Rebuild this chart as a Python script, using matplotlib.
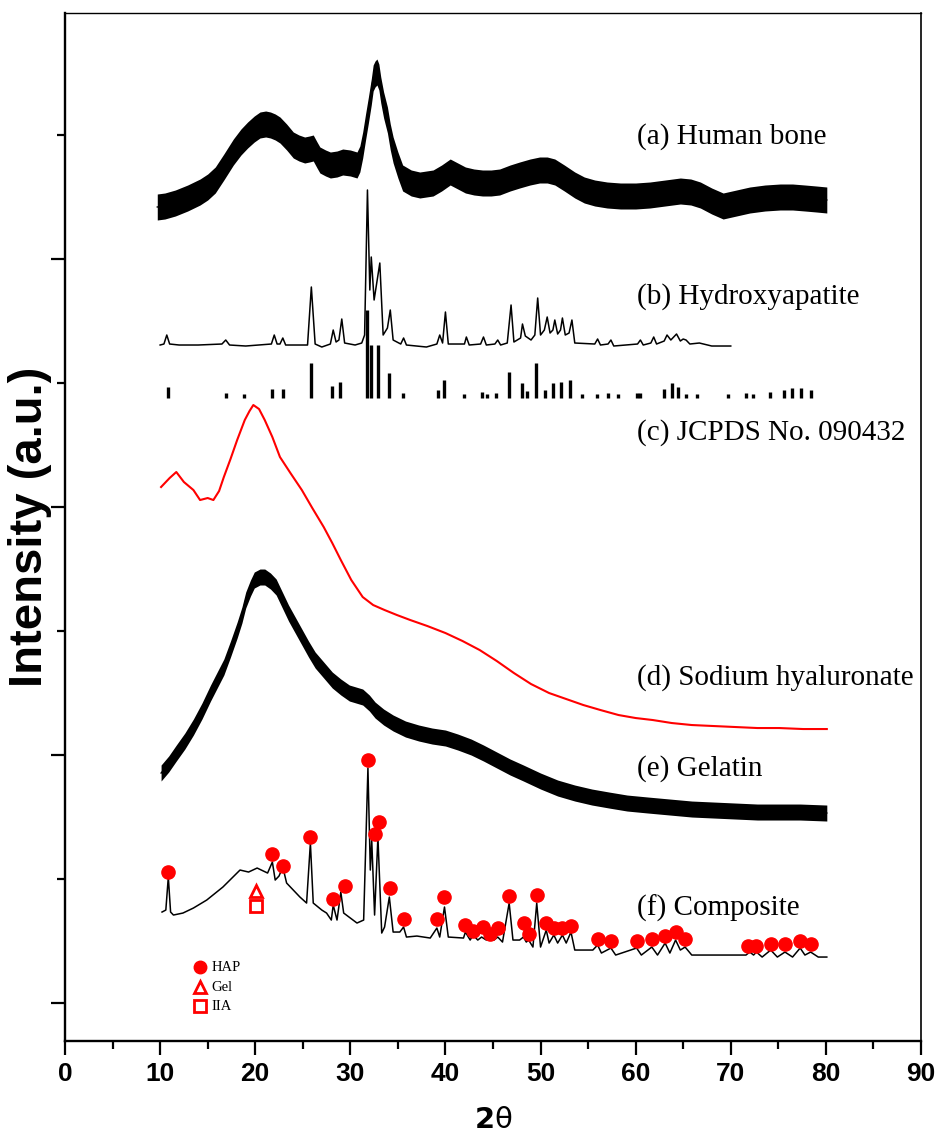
import numpy as np
import matplotlib
matplotlib.use("Agg")
import matplotlib.pyplot as plt
from matplotlib.ticker import FixedLocator, NullFormatter

# ---- data (2theta in degrees, intensity in arbitrary stacked units) ----
bone_x = [9.7, 10.5, 11.6, 12.9, 14.2, 15.0, 15.8, 16.7, 17.7, 18.5, 19.2, 19.9, 20.5,
          21.1, 21.6, 22.1, 22.6, 23.3, 24.0, 24.6, 25.2, 25.7, 26.1, 26.5, 26.8,
          27.4, 27.9, 28.6, 29.2, 30.0, 30.7, 31.0, 31.3, 31.6, 31.9, 32.2, 32.4, 32.6,
          32.8, 33.0, 33.2, 33.5, 33.9, 34.2, 34.5, 35.0, 35.5, 36.4, 37.3, 38.0, 38.7,
          39.6, 40.5, 41.3, 42.1, 43.0, 43.9, 44.8, 45.7, 46.8, 47.8, 48.9, 49.9, 50.7,
          51.5, 52.5, 53.6, 54.6, 55.7, 57.0, 58.4, 60.0, 61.5, 63.1, 64.7, 65.8, 66.8,
          68.0, 69.2, 70.6, 72.0, 73.6, 75.2, 76.5, 77.8, 79.0, 80.1]
bone_y = [920, 921, 924, 929, 935, 940, 947, 960, 975, 985, 992, 998, 1002,
          1003, 1002, 1000, 997, 990, 982, 979, 977, 978, 979, 972, 967,
          964, 962, 963, 965, 964, 962, 968, 982, 1000, 1017, 1035, 1049, 1053,
          1055, 1050, 1037, 1022, 1007, 990, 977, 962, 949, 944, 942, 943, 944,
          949, 955, 951, 947, 945, 944, 944, 945, 949, 952, 955, 957, 957,
          955, 949, 942, 937, 934, 932, 931, 931, 932, 934, 936, 935, 932,
          926, 921, 924, 927, 929, 930, 930, 929, 928, 927]
bone_noise = 13

hap_x = [10.0, 10.4, 10.7, 11.0, 12.0, 14.0, 16.5, 16.9, 17.3, 19.0, 21.7, 22.0, 22.3,
         22.6, 22.9, 23.2, 25.5, 25.9, 26.3, 27.0, 27.9, 28.2, 28.5, 28.8, 29.1, 29.4,
         30.5, 31.2, 31.5, 31.8, 32.05, 32.2, 32.5, 33.1, 33.45, 33.9, 34.2, 34.5, 35.3,
         35.6, 35.9, 38.0, 39.1, 39.4, 39.7, 40.0, 40.3, 42.0, 42.2, 42.5, 43.7, 44.0,
         44.3, 45.2, 45.5, 45.8, 46.5, 46.9, 47.2, 47.9, 48.1, 48.4, 48.7, 49.0, 49.4,
         49.7, 50.0, 50.4, 50.7, 51.0, 51.3, 51.5, 51.8, 52.1, 52.3, 52.6, 53.0, 53.3,
         53.6, 55.7, 56.0, 56.3, 57.1, 57.4, 57.7, 60.2, 60.5, 60.8, 61.6, 61.9, 62.2,
         63.0, 63.3, 63.7, 64.0, 64.3, 64.7, 65.0, 65.3, 65.7, 66.7, 68.0, 70.0]
hap_y = [782, 783, 792, 783, 782, 782, 783, 787, 782, 781, 783, 792, 783,
         783, 789, 782, 782, 840, 783, 780, 783, 797, 785, 787, 808, 784,
         782, 784, 792, 937, 837, 870, 827, 864, 792, 799, 817, 787, 783,
         789, 782, 780, 783, 792, 784, 815, 783, 783, 790, 782, 783, 790,
         782, 783, 787, 782, 784, 822, 785, 789, 803, 791, 789, 787, 792,
         829, 792, 797, 810, 794, 797, 807, 793, 797, 809, 792, 794, 807,
         784, 783, 788, 782, 783, 787, 781, 783, 787, 782, 784, 790, 783,
         786, 792, 787, 790, 793, 786, 788, 787, 783, 784, 781, 781]

# JCPDS 09-0432 reference lines (relative intensity, %)
jcpds_pos = [10.8, 16.9, 18.8, 21.8, 22.9, 25.9, 28.1, 28.9, 31.8, 32.2, 32.9, 34.1,
             35.5, 39.2, 39.8, 42.0, 43.8, 44.4, 45.3, 46.7, 48.1, 48.6, 49.5, 50.5,
             51.3, 52.1, 53.1, 54.4, 55.9, 57.1, 58.1, 60.1, 60.5, 63.0, 63.8, 64.5,
             65.3, 66.4, 69.7, 71.6, 72.3, 74.1, 75.6, 76.4, 77.4, 78.4]
jcpds_int = [12, 6, 4, 10, 10, 40, 14, 18, 100, 60, 60, 28,
             6, 9, 20, 5, 7, 4, 6, 30, 17, 8, 40, 9,
             17, 18, 20, 5, 5, 6, 5, 6, 6, 10, 17, 12,
             5, 5, 4, 6, 5, 7, 9, 11, 11, 9]
jcpds_base = 729
jcpds_scale = 0.88

sh_x = [10.1, 11.0, 11.7, 12.5, 13.5, 14.2, 15.0, 15.6, 16.2, 16.7, 17.4, 18.1, 18.9,
        19.4, 19.8, 20.4, 21.0, 21.8, 22.6, 23.7, 24.9, 26.0, 27.2, 28.1, 29.0, 30.1,
        31.3, 32.4, 33.6, 34.9, 36.3, 38.1, 40.0, 41.8, 43.6, 45.4, 47.2, 49.0, 50.9,
        52.7, 54.5, 56.3, 58.2, 60.0, 61.8, 63.8, 65.9, 68.2, 70.5, 72.8, 75.1, 77.6,
        80.1]
sh_y = [640, 649, 655, 645, 637, 627, 629, 627, 636, 650, 668, 687, 707,
        716, 722, 718, 707, 690, 670, 654, 637, 619, 600, 584, 567, 547,
        530, 522, 517, 512, 507, 501, 494, 486, 477, 466, 454, 443, 434,
        428, 422, 417, 412, 409, 407, 404, 402, 401, 400, 399, 399, 398,
        398]

gel_x = [10.1, 10.9, 11.7, 12.6, 13.5, 14.4, 15.3, 16.0, 16.7, 17.4, 18.1, 18.6, 19.0,
         19.5, 19.9, 20.5, 21.0, 21.6, 22.2, 22.8, 23.5, 24.2, 24.9, 25.6, 26.3, 27.2,
         28.1, 29.0, 29.9, 30.6, 31.3, 32.0, 32.6, 33.5, 34.5, 35.8, 37.2, 38.6, 40.0,
         41.3, 42.7, 44.0, 45.4, 46.8, 48.2, 50.0, 51.8, 53.6, 55.4, 57.2, 59.1, 61.3,
         63.6, 65.9, 68.2, 70.5, 72.8, 75.0, 77.3, 80.1]
gel_y = [354, 363, 374, 386, 400, 416, 434, 447, 460, 478, 497, 512, 527,
         539, 547, 550, 550, 546, 540, 528, 514, 502, 490, 478, 467, 457,
         447, 440, 434, 432, 430, 424, 417, 410, 404, 398, 394, 391, 389,
         385, 380, 374, 367, 360, 354, 346, 339, 334, 330, 327, 324, 322,
         320, 318, 317, 316, 315, 315, 315, 314]
gel_noise = 8

comp_x = [10.2, 10.6, 10.86, 11.1, 11.4, 12.4, 13.5, 14.9, 16.6, 18.4, 19.3, 20.2, 21.3,
          21.8, 22.1, 22.5, 22.9, 23.3, 24.0, 24.7, 25.4, 25.8, 26.1, 27.0, 27.5, 28.0,
          28.2, 28.6, 29.0, 29.3, 30.0, 30.7, 31.4, 31.85, 32.1, 32.25, 32.55, 32.9, 33.3,
          33.6, 34.1, 34.5, 35.2, 35.6, 35.9, 37.0, 38.4, 39.1, 39.4, 39.9, 40.3, 41.9,
          42.1, 42.6, 42.9, 43.4, 43.8, 44.3, 44.7, 45.1, 45.5, 46.0, 46.7, 47.1, 47.8,
          48.2, 48.5, 48.75, 49.2, 49.6, 50.0, 50.6, 50.9, 51.4, 51.8, 52.3, 52.7, 53.2,
          53.6, 55.5, 56.0, 56.4, 57.4, 57.9, 60.1, 60.6, 61.7, 62.3, 63.1, 63.6, 64.2,
          64.7, 65.2, 65.9, 71.6, 72.0, 72.4, 72.7, 73.3, 74.2, 74.9, 75.7, 76.5, 77.3,
          77.8, 78.4, 79.2, 80.1]
comp_y = [215, 217, 250, 215, 212, 214, 219, 227, 240, 257, 255, 259, 254,
          265, 247, 251, 260, 244, 237, 230, 224, 284, 224, 217, 214, 207,
          222, 207, 235, 214, 209, 204, 207, 359, 257, 287, 212, 290, 194,
          200, 230, 195, 195, 200, 190, 191, 189, 199, 190, 220, 190, 189,
          195, 187, 192, 187, 190, 187, 189, 187, 190, 185, 224, 187, 187,
          190, 185, 187, 180, 224, 180, 197, 184, 192, 184, 192, 184, 195,
          177, 177, 182, 174, 179, 172, 179, 172, 180, 172, 184, 174, 187,
          177, 180, 172, 172, 175, 172, 175, 170, 177, 170, 175, 170, 179,
          172, 175, 170, 170]

hap_mark_x = [10.86, 21.8, 22.9, 25.8, 28.2, 29.4, 31.85, 32.6, 33.05, 34.2, 35.6, 39.1,
              39.9, 42.1, 42.9, 43.9, 44.7, 45.5, 46.7, 48.3, 48.75, 49.6, 50.6, 51.4,
              52.3, 53.2, 56.0, 57.4, 60.1, 61.7, 63.1, 64.2, 65.2, 71.8, 72.7, 74.2,
              75.7, 77.3, 78.4]
hap_mark_y = [255, 273, 261, 290, 228, 241, 367, 293, 305, 239, 208, 208,
              230, 202, 196, 200, 193, 199, 231, 204, 193, 232, 204, 199,
              199, 201, 188, 186, 186, 188, 191, 195, 188, 181, 181, 183,
              183, 186, 183]

labels = ["(a) Human bone", "(b) Hydroxyapatite", "(c) JCPDS No. 090432",
          "(d) Sodium hyaluronate", "(e) Gelatin", "(f) Composite"]
label_y = [990, 830, 694, 449, 359, 219]
label_x = 60.1

red = "#ff0000"
serif = ["Liberation Serif", "DejaVu Serif"]
sans = ["Liberation Sans", "DejaVu Sans"]

fig = plt.figure(figsize=(9.41, 11.4), dpi=100)
ax = fig.add_axes([0.0691, 0.0868, 0.9096, 0.9018])

# (a) human bone: dense noisy band
bx = np.array(bone_x); by = np.array(bone_y)
ax.fill_between(bx, by - bone_noise, by + bone_noise, color="black", lw=0)
ax.plot(bx, by, color="black", lw=1.0)

# (b) hydroxyapatite
ax.plot(hap_x, hap_y, color="black", lw=1.1)

# (c) JCPDS sticks
ax.vlines(jcpds_pos, jcpds_base, jcpds_base + np.array(jcpds_int) * jcpds_scale,
          color="black", lw=2.4)

# (d) sodium hyaluronate
ax.plot(sh_x, sh_y, color=red, lw=1.5)

# (e) gelatin
gx = np.array(gel_x); gy = np.array(gel_y)
ax.fill_between(gx, gy - gel_noise, gy + gel_noise, color="black", lw=0)
ax.plot(gx, gy, color="black", lw=1.0)

# (f) composite + phase markers
ax.plot(comp_x, comp_y, color="black", lw=1.1)
ax.plot(hap_mark_x, hap_mark_y, "o", color=red, ms=9.5, mec=red)
ax.plot([20.1], [236], "^", mfc="white", mec=red, mew=2, ms=9)
ax.plot([20.1], [221], "s", mfc="white", mec=red, mew=2, ms=8.5)

# small legend
ax.plot([14.2], [160], "o", color=red, ms=9)
ax.plot([14.2], [140], "^", mfc="white", mec=red, mew=2, ms=9)
ax.plot([14.2], [121], "s", mfc="white", mec=red, mew=2, ms=8.5)
for yy, txt in zip([160, 140, 121], ["HAP", "Gel", "IIA"]):
    ax.text(15.4, yy, txt, family=serif, fontsize=10.5, va="center", ha="left")

for txt, yy in zip(labels, label_y):
    ax.text(label_x, yy, txt, family=serif, fontsize=21, va="center", ha="left")

ax.set_xlim(0, 90)
ax.set_ylim(86, 1114)
ax.set_xticks(np.arange(0, 91, 10))
ax.set_xticks(np.arange(5, 90, 10), minor=True)
ax.yaxis.set_major_locator(FixedLocator([124, 372, 620, 868]))
ax.yaxis.set_minor_locator(FixedLocator([248, 496, 744, 992]))
ax.yaxis.set_major_formatter(NullFormatter())

ax.tick_params(which="major", direction="out", length=10, width=1.6)
ax.tick_params(which="minor", direction="out", length=6, width=1.6)
ax.tick_params(top=False, right=False)
for lab in ax.get_xticklabels():
    lab.set_family(sans)
    lab.set_fontweight("bold")
    lab.set_fontsize(19)
ax.tick_params(axis="x", pad=5)

for side in ["left", "bottom"]:
    ax.spines[side].set_linewidth(1.7)
ax.spines["top"].set_linewidth(1.0)
ax.spines["right"].set_linewidth(1.2)

ax.set_ylabel("Intensity (a.u.)", family=sans, fontweight="bold", fontsize=34,
              va="center")
ax.yaxis.set_label_coords(-0.041, 0.5)
ax.set_xlabel(r"$\mathbf{2}\mathrm{\theta}$", fontsize=21, va="center")
ax.xaxis.set_label_coords(0.5, -0.077)

fig.savefig("out.png", dpi=100)
